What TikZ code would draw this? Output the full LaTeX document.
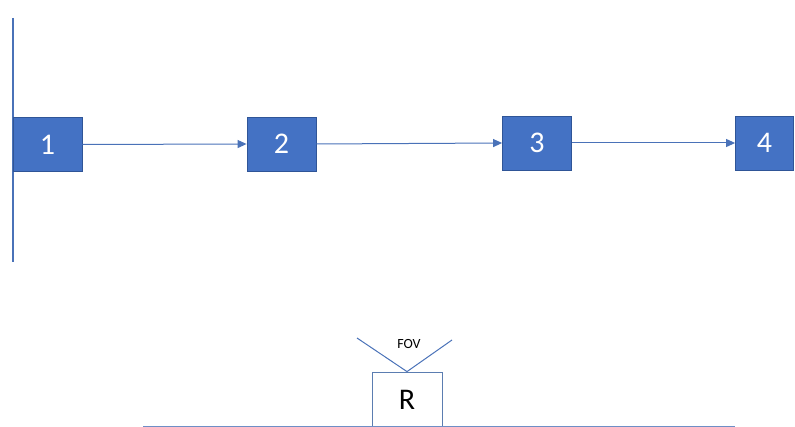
\documentclass[tikz,border=0pt]{standalone}
\usepackage{fontspec}
\setmainfont{Carlito}
\usetikzlibrary{arrows.meta}
\definecolor{boxblue}{HTML}{4472C4}
\definecolor{boxedge}{HTML}{2F5597}
\definecolor{linblue}{HTML}{4A72B8}
\definecolor{redge}{HTML}{5B7DB1}
\begin{document}
\begin{tikzpicture}[x=1pt,y=-1pt,
  numbox/.style={draw=boxedge, line width=0.8pt, fill=boxblue, text=white, minimum width=69pt, minimum height=54pt, inner sep=0pt, font=\fontsize{30}{32}\selectfont},
  conn/.style={draw=linblue, line width=1pt, -{Triangle[length=9pt,width=8pt]}},
  plain/.style={draw=linblue, line width=1pt}]
\useasboundingbox (0,0) rectangle (795,427);
\coordinate (vt) at (13,18);
\coordinate (vb) at (13,262);
\draw[plain, line width=1.6pt] (vt) -- (vb);
\node[numbox] (n1) at (47.5,144.5) {1};
\node[numbox] (n2) at (281.5,144) {2};
\node[numbox] (n3) at (537,143) {3};
\node[numbox, minimum width=58pt] (n4) at (764.5,143) {4};
\draw[conn] (n1.east) -- (n2.west);
\draw[conn] (n2.east) -- (n3.west);
\draw[conn] (n3.east) -- (n4.west);
\node[draw=redge, line width=0.8pt, minimum width=70pt, minimum height=55pt, inner sep=0pt, font=\fontsize{30}{32}\selectfont] (r) at (407,399.5) {R};
\coordinate (fl) at (357,338);
\coordinate (fr) at (452,340);
\draw[plain] (fl) -- (r.north) -- (fr);
\node[font=\fontsize{14}{16}\selectfont] (fov) at (409,344) {FOV};
\coordinate (gl) at (143,426);
\coordinate (gr) at (735,426);
\draw[draw=linblue!80, line width=1pt] (gl) -- (gr);
\end{tikzpicture}
\end{document}
